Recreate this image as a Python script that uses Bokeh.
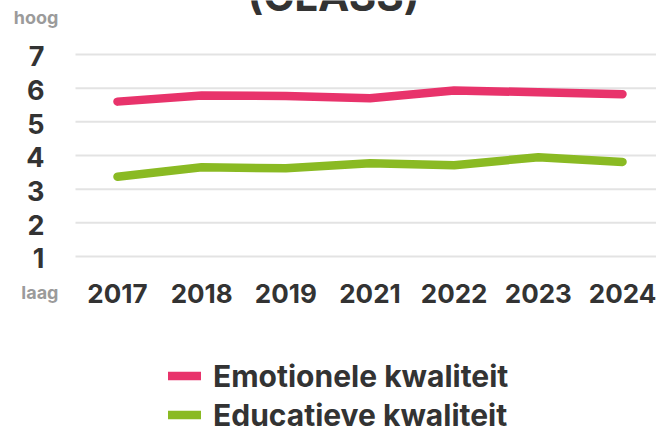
from bokeh.plotting import figure
from bokeh.models import Range1d, Label, Legend, LegendItem
from bokeh.core.properties import value
from bokeh.embed import file_html
from bokeh.resources import INLINE

years = ["2017", "2018", "2019", "2021", "2022", "2023", "2024"]
emotionele = [5.60, 5.78, 5.77, 5.70, 5.93, 5.88, 5.82]
educatieve = [3.37, 3.65, 3.62, 3.77, 3.71, 3.95, 3.81]
y_ticks = [1, 2, 3, 4, 5, 6, 7]
y_tick_labels = [str(t) for t in y_ticks]
scale_labels = ["hoog", "laag"]
series_names = ["Emotionele kwaliteit", "Educatieve kwaliteit"]
title_text = "(CLASS)"

FONT = "Inter"
PINK = "#e8336b"
GREEN = "#8aba23"
DARK = "#333333"
GREY = "#9b9b9b"

xs = list(range(len(years)))

p = figure(width=656, height=426, output_backend="svg", toolbar_location=None,
           x_range=Range1d(-1.390, 6.404), y_range=Range1d(-4.050, 8.604),
           x_axis_location=None, y_axis_location=None,
           min_border=0)
p.outline_line_color = None
p.background_fill_color = "white"
p.border_fill_color = "white"
p.grid.visible = False

# horizontal grid lines at the tick values
p.segment(x0=-0.499, x1=6.5, y0=y_ticks, y1=y_ticks,
          line_color="#e3e3e3", line_width=2)

# y tick labels
p.text(x=[xs[0]] * len(y_ticks), y=y_ticks, text=y_tick_labels,
       x_offset=-73, y_offset=2, text_align="right", text_baseline="middle",
       text_font=value(FONT), text_font_style="bold", text_font_size="27px",
       text_color=DARK)

# x tick labels
p.text(x=xs, y=[y_ticks[0]] * len(xs), text=years, y_offset=37,
       text_align="center", text_baseline="alphabetic",
       text_font=value(FONT), text_font_style="bold", text_font_size="26px",
       text_color=DARK)

# hoog / laag
p.text(x=[xs[0]], y=[y_ticks[-1]], text=[scale_labels[0]], x_offset=-59, y_offset=-37,
       text_align="right", text_baseline="alphabetic",
       text_font=value(FONT), text_font_style="bold", text_font_size="18px",
       text_color=GREY)
p.text(x=[xs[0]], y=[y_ticks[0]], text=[scale_labels[1]], x_offset=-59, y_offset=36,
       text_align="right", text_baseline="alphabetic",
       text_font=value(FONT), text_font_style="bold", text_font_size="18px",
       text_color=GREY)

r1 = p.line(xs, emotionele, line_color=PINK, line_width=8.5, line_cap="round", line_join="round")
r2 = p.line(xs, educatieve, line_color=GREEN, line_width=8.5, line_cap="round", line_join="round")

legend = Legend(items=[LegendItem(label=series_names[0], renderers=[r1]),
                       LegendItem(label=series_names[1], renderers=[r2])],
                location=(168, -8), orientation="vertical",
                border_line_color=None, background_fill_alpha=0,
                label_text_font=FONT, label_text_font_style="bold",
                label_text_font_size="30px", label_text_color=DARK,
                glyph_width=33, glyph_height=39, label_height=39,
                label_standoff=12, spacing=0, padding=0, margin=0)
p.add_layout(legend, "center")

title = Label(x=333, y=431, x_units="screen", y_units="screen", text=title_text,
              text_font=FONT, text_font_style="bold", text_font_size="42px",
              text_color=DARK, text_align="center", text_baseline="alphabetic")
p.add_layout(title)

open("out.html", "w").write(file_html(p, INLINE))
